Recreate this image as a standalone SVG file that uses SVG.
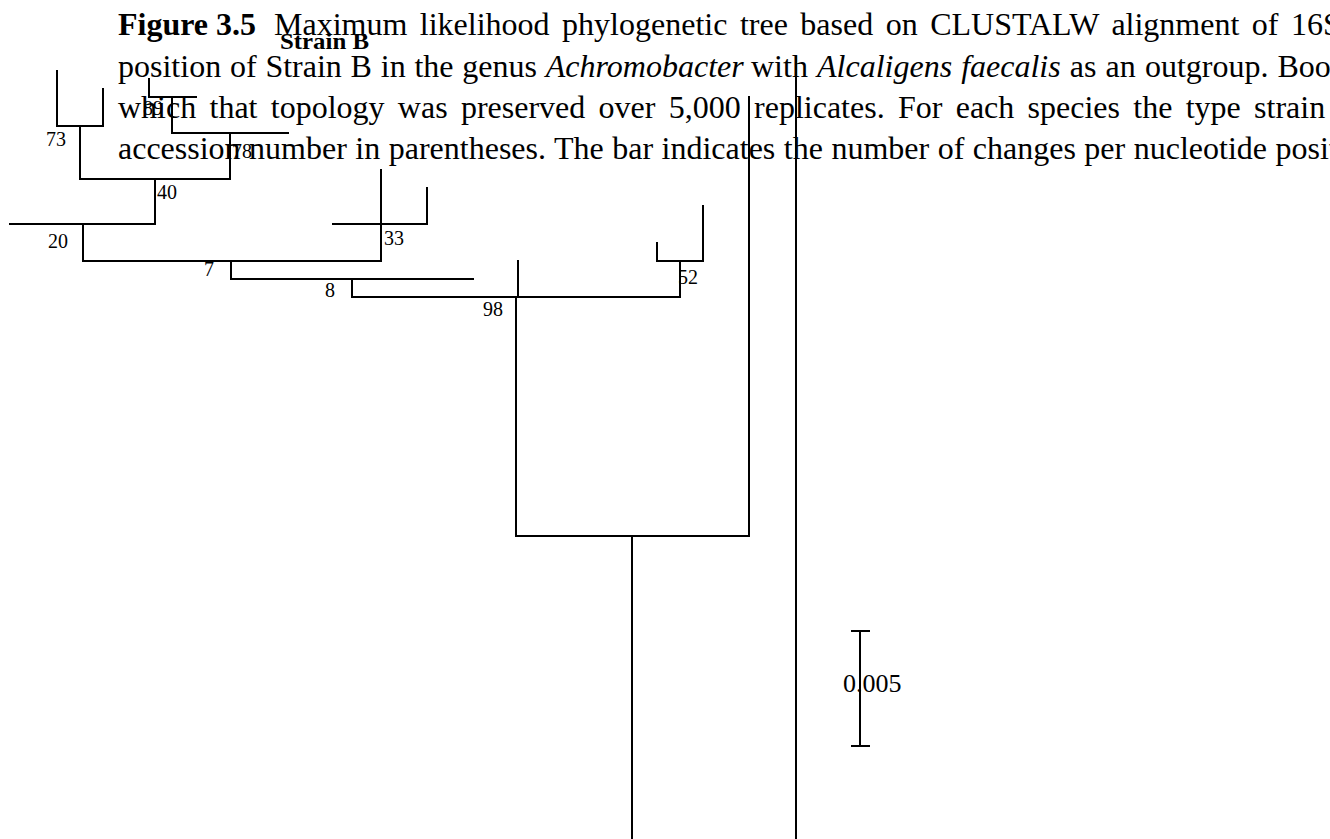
<svg xmlns="http://www.w3.org/2000/svg" width="1330" height="839" viewBox="0 0 1330 839">
<style>
.cap{font-family:"Liberation Serif","Times New Roman",serif;font-size:32px;fill:#000}
.lbl{font-family:"Liberation Serif","Times New Roman",serif;font-size:20px;fill:#000}
.br{stroke:#000;stroke-width:2;fill:none;stroke-linecap:square}
</style>
<rect width="1330" height="839" fill="#fff"/>
<g id="caption">
<text class="cap" x="118" y="35"><tspan font-weight="bold">Figure 3.5</tspan><tspan x="274" word-spacing="4.5">Maximum likelihood phylogenetic tree based on CLUSTALW alignment of 16S</tspan></text>
<text class="cap" x="118" y="77" word-spacing="0.8">position of Strain B in the genus <tspan font-style="italic">Achromobacter</tspan><tspan x="751" word-spacing="1.1">with <tspan font-style="italic">Alcaligens faecalis</tspan> as an outgroup. Boot</tspan></text>
<text class="cap" x="118" y="118" word-spacing="5.3">which that topology was preserved over 5,000 replicates. For each species the type strain</text>
<text class="cap" x="118" y="159" word-spacing="0.5">accession number in parentheses. The bar indicates the number of changes per nucleotide posit</text>
</g>
<g id="connectors" class="br">
<path d="M57,71V126H103V89"/>
<path d="M80,126V179H230V133"/>
<path d="M149,79V97H196"/>
<path d="M172,97V133H288"/>
<path d="M155,179V224H10"/>
<path d="M83,224V261H381V170"/>
<path d="M333,224H427V188"/>
<path d="M231,261V279H473"/>
<path d="M352,279V297H680V261"/>
<path d="M518,261V297"/>
<path d="M657,243V261H703V206"/>
<path d="M516,297V536H749V97"/>
<path d="M632,536V839"/>
<path d="M796,57V839"/>
</g>
<g id="strain-b"><text x="280" y="49" font-family="Liberation Serif, Times New Roman, serif" font-weight="bold" font-size="24" textLength="89" lengthAdjust="spacingAndGlyphs">Strain B</text></g>
<g id="node-73"><text class="lbl" x="46" y="146">73</text></g>
<g id="node-89"><text class="lbl" x="143" y="115">89</text></g>
<g id="node-78"><text class="lbl" x="232" y="158">78</text></g>
<g id="node-40"><text class="lbl" x="157" y="199">40</text></g>
<g id="node-20"><text class="lbl" x="48" y="248">20</text></g>
<g id="node-33"><text class="lbl" x="384" y="245">33</text></g>
<g id="node-7"><text class="lbl" x="204" y="276">7</text></g>
<g id="node-8"><text class="lbl" x="325" y="297">8</text></g>
<g id="node-98"><text class="lbl" x="483" y="316">98</text></g>
<g id="node-52"><text class="lbl" x="678" y="284">52</text></g>
<g id="scale-bar">
<path class="br" d="M860,631V746M852,631H869M852,746H869"/>
<text x="843" y="692" font-family="Liberation Serif, Times New Roman, serif" font-size="26">0.005</text>
</g>
</svg>
